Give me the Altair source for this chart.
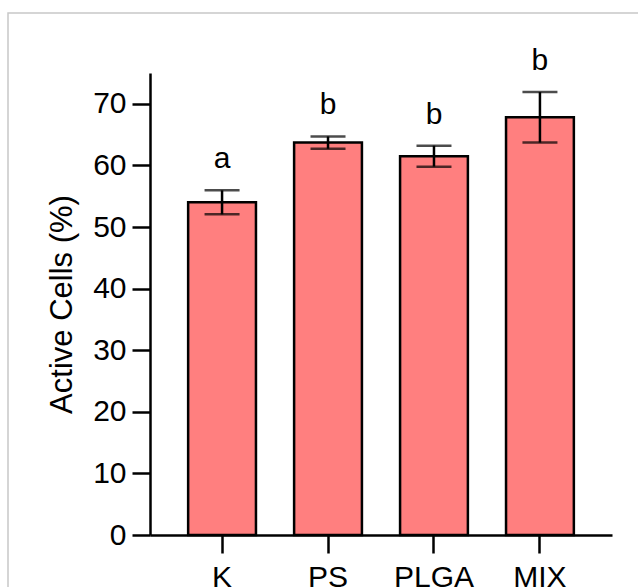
import altair as alt
import pandas as pd

groups = ["K", "PS", "PLGA", "MIX"]
means = [54.0, 63.7, 61.5, 67.8]
sds = [1.95, 1.0, 1.7, 4.1]
letters = ["a", "b", "b", "b"]

df = pd.DataFrame({"group": groups, "mean": means, "sd": sds, "letter": letters})
df["lo"] = df["mean"] - df["sd"]
df["hi"] = df["mean"] + df["sd"]

FONT = "Liberation Sans"

x = alt.X("group:N", sort=groups,
          scale=alt.Scale(paddingInner=0.36, paddingOuter=0.36),
          axis=alt.Axis(title=None, labelAngle=0, labelFontSize=30, labelFont=FONT,
                        labelColor="black", domainColor="black", domainWidth=2.5,
                        tickColor="black", tickWidth=2.5, tickSize=18, labelPadding=9))
y_scale = alt.Scale(domain=[0, 75], nice=False)

base = alt.Chart(df)

# light gray page frame (decoration only)
frame = alt.Chart(pd.DataFrame({"f": [0]})).mark_rect(
    fill=None, stroke="#c8c8c8", strokeWidth=1.5).encode(
    x=alt.value(-142), x2=alt.value(560), y=alt.value(-60), y2=alt.value(560))

bars = base.mark_bar(color="#FF7F7F", stroke="black", strokeWidth=2.5).encode(
    x=x,
    y=alt.Y("mean:Q", scale=y_scale,
            axis=alt.Axis(title="Active Cells (%)", values=[0, 10, 20, 30, 40, 50, 60, 70],
                          titleFontSize=31, titleFont=FONT, titleFontWeight="normal",
                          titleColor="black", titlePadding=14,
                          labelFontSize=30, labelFont=FONT, labelColor="black",
                          domainColor="black", domainWidth=2.5, tickColor="black",
                          tickWidth=2.5, tickSize=18, grid=False, labelPadding=6)),
)

rule = base.mark_rule(color="black", strokeWidth=2.5).encode(
    x=alt.X("group:N", sort=groups), y=alt.Y("lo:Q", scale=y_scale), y2="hi:Q")
cap_hi = base.mark_tick(color="black", size=35, thickness=2.5, orient="horizontal").encode(
    x=alt.X("group:N", sort=groups), y=alt.Y("hi:Q", scale=y_scale))
cap_lo = base.mark_tick(color="black", size=35, thickness=2.5, orient="horizontal").encode(
    x=alt.X("group:N", sort=groups), y=alt.Y("lo:Q", scale=y_scale))
text = base.mark_text(font=FONT, fontSize=30, color="black", baseline="bottom", dy=-16).encode(
    x=alt.X("group:N", sort=groups), y=alt.Y("hi:Q", scale=y_scale), text="letter:N")

chart = alt.layer(frame, bars, rule, cap_hi, cap_lo, text).properties(
    width=462, height=462,
    autosize=alt.AutoSizeParams(type="none"),
    padding={"left": 150, "top": 73, "right": 26, "bottom": 52},
    background="white",
).configure_view(stroke=None)

chart.save("out.html", embed_options={"renderer": "svg", "actions": False})
